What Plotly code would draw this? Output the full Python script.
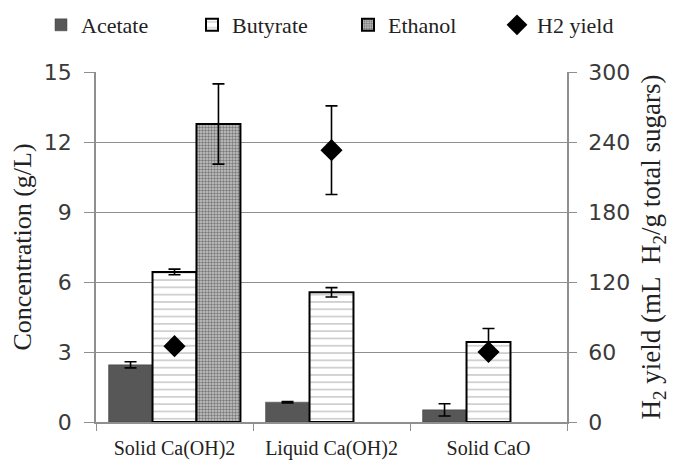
import plotly.graph_objects as go

# Pretreatment conditions
categories = ["Solid Ca(OH)2", "Liquid Ca(OH)2", "Solid CaO"]

# Metabolite concentrations (g/L) and standard deviations
acetate = [2.45, 0.85, 0.52]
acetate_err = [0.13, 0.03, 0.26]
butyrate = [6.43, 5.56, 3.43]
butyrate_err = [0.12, 0.20, 0.58]
ethanol = [12.77, None, None]
ethanol_err = [1.72, None, None]

# Hydrogen yield (mL H2 / g total sugars)
h2_yield = [65, 233, 60]
h2_err = [0, 38, 0]

SERIF = "Liberation Serif, Times New Roman, serif"
SANS = "DejaVu Sans, Verdana, sans-serif"
GRID = "#8f8f8f"
W, H = 677, 464

fig = go.Figure()

err_style = dict(type="data", color="black", thickness=1.6, width=6)

fig.add_trace(go.Bar(
    name="Acetate", x=categories, y=acetate, legend="legend",
    showlegend=True,
    error_y=dict(array=acetate_err, **err_style),
    marker=dict(color="#575757", line=dict(color="#404040", width=0.5)),
))
fig.add_trace(go.Bar(
    name="Butyrate", x=categories, y=butyrate, legend="legend2",
    showlegend=True,
    error_y=dict(array=butyrate_err, **err_style),
    marker=dict(color="white", line=dict(color="black", width=2),
                pattern=dict(shape="-", size=7.3, solidity=0.16,
                             fgcolor="#707070", bgcolor="white")),
))
fig.add_trace(go.Bar(
    name="Ethanol", x=categories, y=ethanol, legend="legend3",
    showlegend=True,
    error_y=dict(array=ethanol_err, **err_style),
    marker=dict(color="white", line=dict(color="black", width=2),
                pattern=dict(shape=".", size=3, solidity=0.5,
                             fgcolor="#2a2a2a", bgcolor="#c8c8c8")),
))
fig.add_trace(go.Scatter(
    name="H2 yield", x=categories, y=h2_yield, yaxis="y2", legend="legend4",
    showlegend=True,
    mode="markers",
    marker=dict(symbol="diamond", size=17, color="black"),
    error_y=dict(array=h2_err, **err_style),
))


def legend_box(left_px):
    # one single-entry legend per series, laid out in a row above the plot
    return dict(
        visible=True,
        orientation="h", xref="container", yref="container",
        x=left_px / W, xanchor="left", y=1 - 25 / H, yanchor="middle",
        font=dict(family=SERIF, size=22, color="#222222"),
        itemwidth=30, bgcolor="rgba(0,0,0,0)",
    )


fig.update_layout(
    width=W, height=H,
    showlegend=True,
    margin=dict(l=96, r=110, t=72, b=42, autoexpand=False),
    paper_bgcolor="white", plot_bgcolor="white",
    barmode="group", bargap=0.16, bargroupgap=0,
    font=dict(family=SERIF, size=20, color="#222222"),
    legend=legend_box(41),
    legend2=legend_box(192),
    legend3=legend_box(348),
    legend4=legend_box(497),
    xaxis=dict(
        type="category", tickson="boundaries", ticks="outside", ticklen=7,
        tickcolor=GRID, showline=True, linecolor=GRID, linewidth=1.5,
        showgrid=False, ticklabelstandoff=7, automargin=False,
        tickfont=dict(family=SERIF, size=20, color="#222222"),
    ),
    yaxis=dict(
        range=[0, 15], dtick=3, tick0=0, ticks="outside", ticklen=10,
        tickcolor=GRID, showline=True, linecolor=GRID, linewidth=1.5,
        showgrid=True, gridcolor=GRID, gridwidth=1.3, zeroline=False,
        ticklabelstandoff=8, automargin=False,
        tickfont=dict(family=SANS, size=22, color="#3a3a3a"),
        title=dict(text="Concentration (g/L)", standoff=5,
                   font=dict(family=SERIF, size=26, color="#222222")),
    ),
    yaxis2=dict(
        range=[0, 300], dtick=60, tick0=0, overlaying="y", side="right",
        ticks="outside", ticklen=8, tickcolor=GRID, showline=True,
        linecolor=GRID, linewidth=1.5, showgrid=False, zeroline=False,
        ticklabelstandoff=7, automargin=False,
        tickfont=dict(family=SANS, size=22, color="#3a3a3a"),
        title=dict(text="H<sub>2</sub> yield (mL  H<sub>2</sub>/g total sugars)",
                   standoff=12,
                   font=dict(family=SERIF, size=27, color="#222222")),
    ),
)

fig.write_html("out.html")
